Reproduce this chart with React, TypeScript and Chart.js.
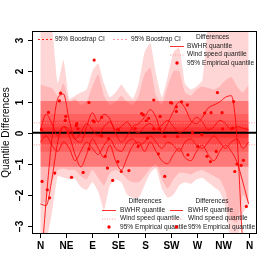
import React, { useEffect, useRef } from "react";
import { Chart, registerables } from "chart.js";
Chart.register(...registerables);

// ---- data ----
const angles = [0, 10, 20, 30, 40, 50, 60, 70, 80, 90, 100, 110, 120, 130, 140, 150, 160, 170, 180, 190, 200, 210, 220, 230, 240, 250, 260, 270, 280, 290, 300, 310, 320, 330, 340, 350, 360];

// bootstrap CI envelopes (outer / inner)
const ciOuterUpper = [3.5, 3.5, 3.4, 1.6, 2.35, 1.1, 1.2, 1.3, 1.4, 2.0, 2.25, 1.6, 1.15, 1.3, 1.55, 1.3, 1.1, 1.6, 2.6, 2.9, 1.9, 1.15, 1.8, 2.6, 2.75, 1.6, 1.4, 1.5, 1.7, 3.5, 3.5, 3.5, 3.5, 3.5, 3.5, 3.5, 3.5];
const ciOuterLower = [-3.5, -3.5, -2.6, -1.4, -1.45, -1.5, -1.5, -1.75, -1.85, -1.6, -1.9, -2.5, -1.7, -1.5, -1.6, -2.0, -2.1, -2.1, -1.7, -1.3, -1.15, -1.8, -2.1, -2.0, -1.7, -1.6, -1.65, -1.5, -1.45, -1.6, -1.75, -1.9, -2.4, -3.5, -3.5, -2.6, -2.3];
const ciInnerUpper = [1.55, 1.5, 1.45, 1.2, 1.6, 1.0, 1.1, 0.9, 1.0, 1.5, 1.9, 1.2, 0.9, 1.0, 1.2, 1.0, 0.9, 1.2, 1.9, 2.1, 1.2, 0.9, 1.5, 2.0, 2.0, 1.3, 1.2, 1.4, 1.5, 1.45, 1.4, 1.5, 1.7, 1.8, 1.5, 1.3, 1.55];
const ciInnerLower = [-2.3, -2.2, -1.6, -1.2, -1.15, -1.2, -1.2, -1.4, -1.5, -1.2, -1.45, -1.7, -1.3, -1.2, -1.3, -1.5, -1.6, -1.6, -1.4, -1.15, -1.0, -1.5, -1.8, -1.5, -1.3, -1.3, -1.35, -1.25, -1.2, -1.3, -1.4, -1.5, -1.9, -2.8, -2.9, -2.0, -2.3];

// horizontal difference bands
const bandUpper = [1.03, 0.61, 0.39, 0.18];
const bandLower = [-1.1, -0.61, -0.39, -0.16];

// BWHR quantile differences
const bwhrA = [-4.6, -2.2, -0.2, 1.1, 1.25, 0.4, -0.2, -0.3, 0.2, 0.65, 0.35, 0.6, 0.45, 0.0, -0.3, -0.1, 0.2, 0.3, 0.5, 0.75, 0.5, 0.0, 0.3, 0.7, 1.0, 0.8, 0.4, 0.3, 0.5, 0.8, 0.9, 1.0, 1.15, 1.2, -0.2, -3.6, -4.6];
const bwhrB = [-2.3, -2.35, -1.5, -0.3, 0.2, -0.1, -0.7, -1.1, -0.7, -0.2, -0.5, -0.8, -0.4, -0.9, -1.2, -0.8, -0.4, -0.3, -0.6, -0.3, -0.6, -0.9, -1.0, -0.7, -0.5, -0.8, -0.9, -0.6, -0.4, -0.7, -0.9, -0.6, -0.4, -0.6, -0.95, -1.6, -2.3];
const bwhrC = [0.1, 0.6, 0.3, -0.1, 0.2, 0.1, -0.2, 0.0, 0.3, 0.1, -0.1, 0.2, 0.35, 0.1, 0.2, 0.35, 0.1, 0.0, 0.2, 0.3, 0.1, 0.25, 0.4, 0.2, 0.0, 0.1, 0.3, 0.5, 0.35, 0.1, 0.2, 0.4, 0.3, 0.1, 0.2, 0.15, 0.1];
const bwhrD = [-0.3, -0.1, -0.4, -0.6, -0.3, -0.5, -0.9, -0.6, -0.3, -0.5, -0.7, -0.4, -0.2, -0.5, -0.6, -0.3, -0.2, -0.4, -0.3, -0.1, -0.3, -0.5, -0.3, -0.4, -0.6, -0.3, -0.2, -0.4, -0.5, -0.3, -0.1, -0.3, -0.5, -0.3, -0.2, -0.5, -0.3];

// wind speed quantile differences (flat)
const windAngles = [-20, 380];
const windHigh = [0.32, 0.32];
const windLow = [-0.39, -0.39];

// 95% empirical quantile points
const empDeg = [93, 14, 35, 33, 84, 2, 44, 43, 62, 65, 91, 106, 135, 175, 164, 93, 63, 306, 196, 225, 254, 235, 235, 334, 314, 284, 295, 187, 207, 196, 206, 315, 332, 3, 25, 12, 16, 54, 74, 84, 112, 116, 134, 125, 140, 153, 106, 118, 169, 215, 204, 255, 294, 288, 336, 340, 347, 351, 356, 272, 304, 215, 237, 263, 279, 185, 48, 183, 178, 227, 244];
const empVal = [2.35, 0.66, 1.28, 1.03, 0.98, 0.1, 0.53, 0.4, 0.23, 0.13, 0.39, 0.5, 0.1, 0.62, 0.14, 0.36, 0.3, 1.3, 1.06, 0.98, 0.9, 0.84, 0.69, 1.01, 0.65, 0.64, 0.65, 0.47, 0.53, 0.13, 0.13, 0.13, 0.15, -1.57, -1.3, -1.84, -2.1, -1.44, -1.28, -0.52, -0.76, -1.14, -0.93, -1.54, -1.25, -1.22, -0.1, -0.19, -0.44, -1.41, -0.68, -0.71, -0.93, -0.76, -1.25, -1.01, -1.05, -0.89, -2.38, -0.44, -0.6, -0.12, -0.12, 0.0, -0.06, -0.17, 0.0, 0.39, 0.58, 0.96, 1.0];

// axis ticks
const xTickValues = [0, 45, 90, 135, 180, 225, 270, 315, 360];
const xTickLabels = ["N", "NE", "E", "SE", "S", "SW", "W", "NW", "N"];
const yTickValues = [-3, -2, -1, 0, 1, 2, 3];
const yTickLabels = ["\u22123", "\u22122", "\u22121", "0", "1", "2", "3"];

const FONT = '"Liberation Sans", Arial, Helvetica, sans-serif';

const xy = (xs: number[], ys: number[]) => xs.map((x, i) => ({ x, y: ys[i] }));

function drawLegends(ctx: CanvasRenderingContext2D) {
  ctx.save();
  ctx.font = `6.6px ${FONT}`;
  ctx.fillStyle = "#1a1a1a";
  ctx.textBaseline = "middle";
  const line = (x1: number, x2: number, y: number, color: string, dash: number[]) => {
    ctx.save();
    ctx.strokeStyle = color;
    ctx.lineWidth = 1;
    ctx.setLineDash(dash);
    ctx.beginPath();
    ctx.moveTo(x1, y + 0.5);
    ctx.lineTo(x2, y + 0.5);
    ctx.stroke();
    ctx.restore();
  };
  const dot = (x: number, y: number) => {
    ctx.save();
    ctx.fillStyle = "#ff0000";
    ctx.beginPath();
    ctx.arc(x, y, 1.7, 0, Math.PI * 2);
    ctx.fill();
    ctx.restore();
  };
  // top-left CI legends
  line(38, 52, 39, "#ff2020", [2, 2]);
  ctx.textAlign = "left";
  ctx.fillText("95% Boostrap CI", 55, 39.5);
  line(113, 127, 39, "#ffa0a0", [2, 2]);
  ctx.fillText("95% Boostrap CI", 131, 39.5);

  const diffLegend = (cx: number, ty: number, lx1: number, lx2: number, tx: number) => {
    ctx.textAlign = "center";
    ctx.fillText("Differences", cx, ty);
    ctx.textAlign = "left";
    const r1 = ty + 9, r2 = ty + 17.5, r3 = ty + 26;
    line(lx1, lx2, r1, "#ff3030", []);
    ctx.fillText("BWHR quantile", tx, r1);
    line(lx1, lx2, r2, "#ff9a9a", [1, 1.5]);
    ctx.fillText("Wind speed quantile", tx, r2);
    dot((lx1 + lx2) / 2, r3);
    ctx.fillText("95% Empirical quantile", tx, r3);
  };
  diffLegend(212.5, 37, 170, 184, 187);
  diffLegend(145, 201, 102, 116, 120);
  diffLegend(212, 201, 170, 183, 188);
  ctx.restore();
}

const axesPlugin = {
  id: "rAxes",
  afterDraw(chart: any) {
    const { ctx, chartArea: a, scales } = chart;
    const x = scales.x, y = scales.y;
    ctx.save();
    ctx.strokeStyle = "#000";
    ctx.lineWidth = 1;
    ctx.strokeRect(a.left + 0.5, a.top + 0.5, a.right - a.left - 1, a.bottom - a.top - 1);
    ctx.fillStyle = "#000";
    ctx.font = `bold 10px ${FONT}`;
    ctx.textAlign = "center";
    ctx.textBaseline = "middle";
    xTickValues.forEach((v, i) => {
      const px = Math.round(x.getPixelForValue(v)) + 0.5;
      ctx.beginPath();
      ctx.moveTo(px, a.bottom);
      ctx.lineTo(px, a.bottom + 4);
      ctx.stroke();
      ctx.fillText(xTickLabels[i], px, a.bottom + 12);
    });
    yTickValues.forEach((v, i) => {
      const py = Math.round(y.getPixelForValue(v)) + 0.5;
      ctx.beginPath();
      ctx.moveTo(a.left - 4, py);
      ctx.lineTo(a.left, py);
      ctx.stroke();
      ctx.save();
      ctx.translate(a.left - 12, py);
      ctx.rotate(-Math.PI / 2);
      ctx.fillText(yTickLabels[i], 0, 0);
      ctx.restore();
    });
    ctx.font = `10px ${FONT}`;
    ctx.save();
    ctx.translate(6, (a.top + a.bottom) / 2);
    ctx.rotate(-Math.PI / 2);
    ctx.fillText("Quantile Differences", 0, 0);
    ctx.restore();
    ctx.restore();
    drawLegends(ctx);
  },
};

function buildConfig(): any {
  const datasets: any[] = [];
  const hidden = { borderWidth: 0, pointRadius: 0, fill: false };
  const addFill = (lo: any[], hi: any[], color: string, order: number, tension = 0.15) => {
    const loIdx = datasets.length;
    datasets.push({ data: lo, ...hidden, order, tension });
    datasets.push({ data: hi, borderWidth: 0, pointRadius: 0, fill: { target: loIdx }, backgroundColor: color, order, tension });
  };
  addFill(xy(angles, ciOuterLower), xy(angles, ciOuterUpper), "rgba(255,0,0,0.16)", 100);
  addFill(xy(angles, ciInnerLower), xy(angles, ciInnerUpper), "rgba(255,0,0,0.15)", 90);
  const bandAlpha = [0.35, 0.2, 0.25, 0.3];
  bandUpper.forEach((h, i) => {
    addFill(
      xy([0, 360], [bandLower[i], bandLower[i]]),
      xy([0, 360], [h, h]),
      `rgba(255,0,0,${bandAlpha[i]})`,
      80 - i,
      0
    );
  });
  datasets.push({ data: xy(windAngles, windHigh), borderColor: "#ff9a9a", borderWidth: 1, borderDash: [1, 1.5], pointRadius: 0, fill: false, order: 60 });
  datasets.push({ data: xy(windAngles, windLow), borderColor: "#ff9a9a", borderWidth: 1, borderDash: [1, 1.5], pointRadius: 0, fill: false, order: 60 });
  datasets.push({ data: xy([-20, 380], [0, 0]), borderColor: "#000", borderWidth: 2, pointRadius: 0, fill: false, order: 50 });
  [bwhrA, bwhrB, bwhrC, bwhrD].forEach((s) => {
    datasets.push({ data: xy(angles, s), borderColor: "rgba(255,0,0,0.85)", borderWidth: 1, pointRadius: 0, fill: false, cubicInterpolationMode: "monotone", order: 40 });
  });
  datasets.push({ data: xy(empDeg, empVal), showLine: false, pointRadius: 1.6, pointBackgroundColor: "#ff0000", pointBorderWidth: 0, borderColor: "#ff0000", order: 10 });

  return {
    type: "line",
    data: { datasets },
    options: {
      responsive: false,
      animation: false,
      events: [],
      layout: { padding: { left: 32, top: 31, right: 17, bottom: 40 } },
      scales: {
        x: { type: "linear", min: -14.4, max: 374.4, display: false },
        y: { type: "linear", min: -3.27, max: 3.29, display: false },
      },
      plugins: { legend: { display: false }, tooltip: { enabled: false } },
    },
    plugins: [axesPlugin],
  };
}

export default function App() {
  const ref = useRef<HTMLCanvasElement>(null);
  useEffect(() => {
    const canvas = ref.current;
    if (!canvas) return;
    const chart = new Chart(canvas, buildConfig());
    return () => chart.destroy();
  }, []);
  return (
    <div style={{ position: "fixed", left: 0, top: 0, width: 274, height: 274, background: "#fff" }}>
      <canvas ref={ref} width={274} height={274} style={{ width: 274, height: 274, display: "block" }} />
    </div>
  );
}
